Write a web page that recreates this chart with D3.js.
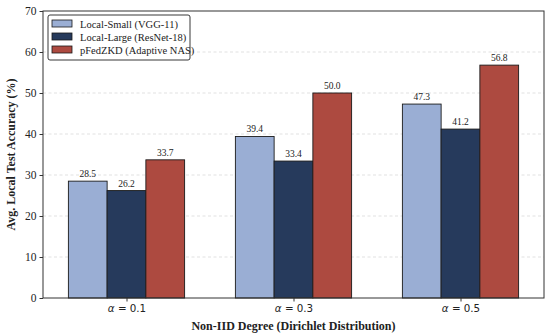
<!DOCTYPE html>
<html lang="en">
<head>
<meta charset="UTF-8">
<title>Non-IID accuracy bars</title>
<script src="https://d3js.org/d3.v7.min.js"></script>
<style>
  body { margin: 0; background: #fff; }
  svg text { font-family: "Liberation Serif", "Times New Roman", serif; fill: #222; }
</style>
</head>
<body>
<div id="chart"></div>
<script>
const groups = ["0.1", "0.3", "0.5"];
const seriesNames = ["Local-Small (VGG-11)", "Local-Large (ResNet-18)", "pFedZKD (Adaptive NAS)"];
const localSmall = [28.5, 39.4, 47.3];
const localLarge = [26.2, 33.4, 41.2];
const pfedzkd = [33.7, 50.0, 56.8];
const yTicks = [0, 10, 20, 30, 40, 50, 60, 70];

const colors = ["#9aaed4", "#263a5c", "#ad4a40"];
const series = [localSmall, localLarge, pfedzkd];

const W = 550, H = 336;
const m = { left: 43, right: 6, top: 11, bottom: 38 };

const svg = d3.select("#chart").append("svg")
    .attr("width", W).attr("height", H);

const x = d3.scaleLinear().domain([-0.5, 2.5]).range([m.left, W - m.right]);
const y = d3.scaleLinear().domain([0, 70]).range([H - m.bottom, m.top]);
const barW = 0.232;

// grid
svg.append("g").selectAll("line")
    .data(yTicks.slice(1, -1))
    .join("line")
    .attr("x1", m.left).attr("x2", W - m.right)
    .attr("y1", d => y(d)).attr("y2", d => y(d))
    .attr("stroke", "#d9d9d9").attr("stroke-width", 0.8)
    .attr("stroke-dasharray", "3,2.5");

// bars
series.forEach((vals, si) => {
    const off = (si - 1) * barW;
    const g = svg.append("g");
    g.selectAll("rect")
        .data(vals)
        .join("rect")
        .attr("x", (d, i) => x(i + off - barW / 2))
        .attr("y", d => y(d))
        .attr("width", x(barW) - x(0))
        .attr("height", d => y(0) - y(d))
        .attr("fill", colors[si])
        .attr("stroke", "#1a1a1a")
        .attr("stroke-width", 0.9);
    g.selectAll("text")
        .data(vals)
        .join("text")
        .attr("x", (d, i) => x(i + off))
        .attr("y", d => y(d) - 4)
        .attr("text-anchor", "middle")
        .attr("font-size", 9.5)
        .text(d => d.toFixed(1));
});

// frame
svg.append("rect")
    .attr("x", m.left).attr("y", m.top)
    .attr("width", W - m.right - m.left).attr("height", y(0) - m.top)
    .attr("fill", "none").attr("stroke", "#333").attr("stroke-width", 1);

// y axis
const yAxis = svg.append("g")
    .attr("transform", `translate(${m.left},0)`)
    .call(d3.axisLeft(y).tickValues(yTicks).tickSize(3.5).tickPadding(3));
yAxis.select(".domain").remove();
yAxis.selectAll("line").attr("stroke", "#333");
yAxis.selectAll("text").attr("font-size", 11.5)
    .style("font-family", "'Liberation Serif', serif").attr("fill", "#222");

// x axis
const xAxis = svg.append("g")
    .attr("transform", `translate(0,${y(0)})`)
    .call(d3.axisBottom(x).tickValues([0, 1, 2]).tickSize(3.5).tickPadding(3).tickFormat(() => ""));
xAxis.select(".domain").remove();
xAxis.selectAll("line").attr("stroke", "#333");
xAxis.selectAll(".tick").each(function(d, i) {
    const t = d3.select(this).append("text")
        .attr("y", 13.5).attr("text-anchor", "middle")
        .attr("font-size", 10.3)
        .style("font-family", "'DejaVu Sans', sans-serif");
    t.append("tspan").style("font-style", "italic").text("α");
    t.append("tspan").text(" = " + groups[i]);
});

// axis titles
svg.append("text")
    .attr("x", (m.left + W - m.right) / 2).attr("y", 330)
    .attr("text-anchor", "middle").attr("font-size", 12).attr("font-weight", "bold")
    .text("Non-IID Degree (Dirichlet Distribution)");
svg.append("text")
    .attr("transform", `translate(15,${(m.top + y(0)) / 2}) rotate(-90)`)
    .attr("text-anchor", "middle").attr("font-size", 12).attr("font-weight", "bold")
    .text("Avg. Local Test Accuracy (%)");

// legend
const lg = svg.append("g").attr("transform", "translate(48,15)");
lg.append("rect")
    .attr("width", 142).attr("height", 45).attr("rx", 2)
    .attr("fill", "#fff").attr("stroke", "#222").attr("stroke-width", 0.9);
seriesNames.forEach((name, i) => {
    const row = lg.append("g").attr("transform", `translate(4,${5 + i * 13})`);
    row.append("rect").attr("width", 20).attr("height", 7)
        .attr("fill", colors[i]).attr("stroke", "#1a1a1a").attr("stroke-width", 0.8);
    row.append("text").attr("x", 28).attr("y", 7.5).attr("font-size", 10.5).text(name);
});
</script>
</body>
</html>
